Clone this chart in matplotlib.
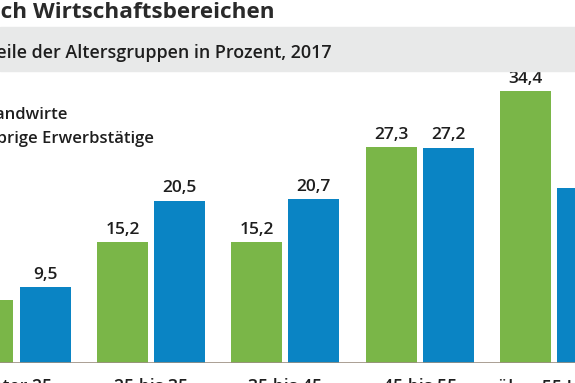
import numpy as np
import matplotlib
matplotlib.use('Agg')
from matplotlib import pyplot as plt
from matplotlib.patches import Rectangle

categories = ['unter 25', '25 bis 35', '35 bis 45', '45 bis 55', 'über 55 Jahre']
landwirte = [7.9, 15.2, 15.2, 27.3, 34.4]
uebrige = [9.5, 20.5, 20.7, 27.2, 22.1]
series_names = ['Landwirte', 'übrige Erwerbstätige']

title = 'nach Wirtschaftsbereichen'
subtitle = 'Anteile der Altersgruppen in Prozent, 2017'

GREEN = '#7ab648'
BLUE = '#0a84c4'
DARK = '#1e1e1e'

W, H = 575, 383
plt.rcParams['font.family'] = ['Open Sans', 'DejaVu Sans']


def fx(px):
    return px / W


def fy(py):
    return 1 - py / H


fig = plt.figure(figsize=(W / 100, H / 100), dpi=100)

# grey subtitle band
fig.patches.append(Rectangle((0, fy(71)), 1, (71 - 27) / H, transform=fig.transFigure,
                             color='#e8e9e9', zorder=0))
fig.text(fx(275), fy(18), title, ha='right', va='baseline', fontsize=16.2,
         fontweight='bold', color='#2a2a2a')
fig.text(fx(332), fy(58), subtitle, ha='right', va='baseline', fontsize=12.9,
         fontweight='semibold', color=DARK)

# legend text (markers are outside the crop)
fig.text(fx(68), fy(119), series_names[0], ha='right', va='baseline', fontsize=12,
         fontweight='semibold', color=DARK)
fig.text(fx(154), fy(143), series_names[1], ha='right', va='baseline', fontsize=12,
         fontweight='semibold', color=DARK)

# axes: baseline at y=362.5 px, 7.9 px per unit, group step 134.4 px
base_px = 362.5
top_px = 80
k = 7.9
ax = fig.add_axes([0, fy(base_px), 1, (base_px - top_px) / H])
ax.set_ylim(0, (base_px - top_px) / k)
step = 134.4
ax.set_xlim((0 - 16.5) / step, (W - 16.5) / step)
ax.axis('off')

x = np.arange(len(categories))
bw = 51 / step
off = 28.5 / step
b1 = ax.bar(x - off, landwirte, bw, color=GREEN, zorder=2)
b2 = ax.bar(x + off, uebrige, bw, color=BLUE, zorder=2)
ax.axhline(0, color='#9c8f82', lw=1.2, zorder=3)

for bars, vals in ((b1, landwirte), (b2, uebrige)):
    for b, v in zip(bars, vals):
        ax.annotate(f'{v:.1f}'.replace('.', ','), (b.get_x() + b.get_width() / 2, v),
                    xytext=(0, 3), textcoords='offset points', ha='center', va='bottom',
                    fontsize=12.5, fontweight='semibold', color=DARK)

for xi, c in zip(x, categories):
    ax.annotate(c, (xi, 0), xytext=(0, -11), textcoords='offset points', ha='center',
                va='top', fontsize=12.7, fontweight='semibold', color=DARK,
                annotation_clip=False)

fig.savefig('out.png', dpi=100)
